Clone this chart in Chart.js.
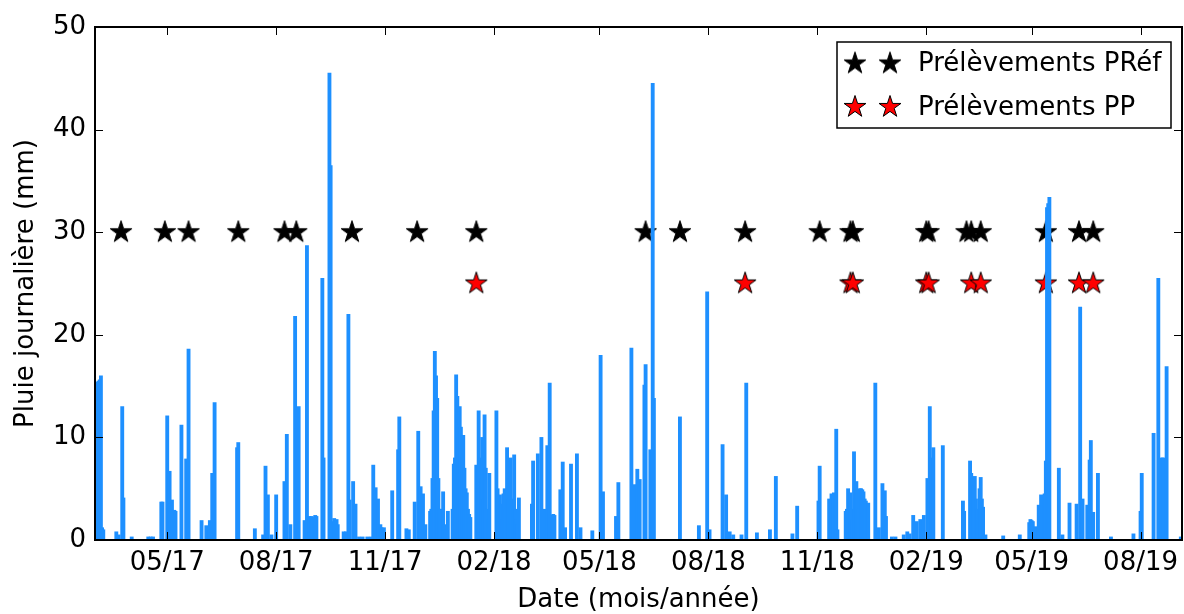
<!DOCTYPE html>
<html>
<head>
<meta charset="utf-8">
<script src="https://cdn.jsdelivr.net/npm/chart.js@4.4.1/dist/chart.umd.min.js"></script>
<style>
  html, body { margin: 0; padding: 0; background: #fff; overflow: hidden; }
  canvas { display: block; }
</style>
</head>
<body>
<canvas id="chart" width="1184" height="614"></canvas>
<script>
// jour 0 = 01/03/2017, un point par jour de pluie (les autres jours valent 0)
const rainDay = [
  1, 2, 3, 4, 5, 6, 7, 18, 20, 23, 24, 31, 45, 47, 49,
  56, 57, 61, 62, 63, 64, 65, 67, 68, 73, 77, 78, 79,
  90, 94, 97, 99, 101, 120, 121, 135, 142, 144, 146, 149, 153,
  160, 162, 165, 169, 170, 172, 177, 179, 181, 182, 183, 184, 185, 186, 187,
  192, 193, 198, 199, 201, 202, 203, 204, 205, 210, 212, 214, 215, 218, 220,
  223, 226, 230, 233, 235, 237, 239, 241, 242, 244, 251, 256, 257,
  263, 265, 270, 273, 275, 277, 279,
  283, 284, 285, 286, 287, 288, 289, 290, 291, 292, 293, 294, 295, 296, 298,
  302, 303, 304, 305, 306, 307, 308, 309, 310, 311, 312, 313, 314, 315, 316, 317,
  322, 323, 324, 325, 326, 327, 328, 329, 330, 331, 332, 333,
  339, 340, 341, 342, 343, 344, 345, 346, 347, 348, 349, 350, 351, 352, 353,
  354, 355, 356, 357, 358,
  369, 370, 374, 377, 380, 382, 384, 386, 387, 388,
  393, 395, 397, 402, 407, 410, 420, 427, 429,
  440, 442, 453, 456, 458, 460, 464, 465, 469, 471, 472,
  494, 510, 517, 519, 530, 533, 536, 539, 546, 550,
  559, 570, 575, 589, 593,
  611, 612, 620, 621, 622, 623, 624, 625, 626, 627,
  634, 635, 636, 637, 638, 639, 640, 641, 642, 643, 644, 645, 646, 647, 648,
  649, 650, 651, 652, 653,
  659, 662, 665, 667, 668, 673, 676, 683, 686, 688,
  691, 694, 697, 700, 703, 704, 705, 706, 707, 708, 716,
  733, 734, 739, 740, 741, 742, 743, 744, 745, 746, 747, 748, 749, 750, 752,
  767, 781, 789, 790, 791, 792, 794, 797, 799, 802, 803, 804, 805, 806,
  814, 817, 823, 829, 832, 834, 838, 840, 841, 843, 847,
  858, 877, 883, 884, 894, 898, 901, 902, 905, 917
];
const rainMm = [
  10.7, 15.4, 15.5, 15.6, 16.0, 1.2, 1.0, 0.8, 0.5, 13.0, 4.1, 0.3, 0.3, 0.3, 0.3,
  3.7, 3.7, 12.1, 3.0, 6.7, 3.5, 3.9, 2.9, 2.8, 11.2, 7.9, 7.5, 18.6,
  1.9, 1.4, 1.9, 6.5, 13.4, 9.0, 9.5, 1.1, 0.5, 7.2, 4.4, 0.5, 4.4,
  5.7, 10.3, 1.5, 21.8, 10.8, 13.0, 1.9, 28.7, 2.3, 2.2, 2.3, 2.1, 2.2, 2.4, 2.3,
  25.5, 8.0, 45.5, 36.5, 1.8, 2.1, 1.9, 2.0, 1.5, 0.8, 0.8, 22.0, 3.9, 5.7, 3.5,
  0.3, 0.3, 0.3, 0.3, 7.3, 5.1, 4.0, 1.5, 1.2, 1.2, 4.8, 8.8, 12.0,
  1.1, 1.0, 3.7, 10.6, 5.2, 4.5, 1.5,
  2.8, 3.0, 6.0, 12.6, 18.4, 16.0, 13.8, 6.0, 3.0, 3.0, 2.0, 4.7, 1.5, 1.0, 2.8,
  3.0, 7.4, 8.0, 16.1, 14.0, 10.0, 13.0, 11.0, 8.0, 10.2, 7.0, 5.0, 4.6, 3.0, 2.5, 2.2,
  7.3, 5.0, 12.6, 8.0, 6.0, 10.0, 4.0, 12.2, 7.0, 3.0, 2.0, 6.5,
  12.6, 5.0, 3.0, 4.4, 3.5, 2.0, 4.5, 5.0, 3.0, 9.0, 4.0, 6.0, 8.0, 4.0, 3.0,
  8.3, 3.0, 2.0, 1.5, 4.1,
  3.5, 7.7, 8.4, 10.0, 3.0, 9.2, 15.3, 2.4, 2.5, 2.4,
  4.9, 7.6, 1.2, 7.4, 8.4, 1.2, 0.9, 18.0, 4.7,
  2.3, 5.6, 18.7, 5.4, 6.9, 5.9, 15.1, 17.1, 8.8, 44.5, 13.8,
  12.0, 1.4, 24.2, 1.0, 9.3, 4.4, 0.8, 0.5, 0.5, 15.3,
  0.7, 1.0, 6.2, 0.6, 3.3,
  3.8, 7.2, 4.0, 2.0, 4.5, 3.0, 4.6, 4.0, 10.8, 1.0,
  2.8, 3.0, 5.0, 4.0, 4.6, 3.0, 2.0, 8.6, 4.0, 5.7, 4.5, 3.0, 5.0, 5.0, 4.9,
  4.7, 4.0, 3.8, 3.0, 3.6,
  15.3, 1.2, 5.5, 4.8, 2.3, 0.3, 0.3, 0.5, 0.8, 0.6,
  2.4, 1.8, 2.0, 2.4, 6.0, 4.0, 13.0, 8.0, 5.0, 9.0, 9.2,
  3.8, 2.8, 7.7, 6.5, 6.0, 5.3, 6.2, 4.0, 3.0, 2.0, 5.0, 6.1, 4.0, 3.2, 0.5,
  0.4, 0.5, 1.7, 2.0, 1.9, 1.8, 1.3, 3.4, 4.4, 4.5, 7.7, 32.4, 32.8, 33.4,
  7.0, 0.5, 3.6, 3.5, 22.7, 4.0, 3.4, 7.8, 9.7, 2.7, 6.5,
  0.3, 0.6, 2.8, 6.5, 10.4, 25.5, 8.0, 8.0, 16.9, 0.3
];
const LAST_DAY = 918;

// dates des prélèvements (jour depuis le 01/03/2017)
const prefDays = [22, 59, 79, 121, 160, 170, 217, 272, 322, 465, 494, 549,
  612, 638, 640, 702, 704, 736, 740, 748, 803, 831, 843];
const ppDays = [322, 549, 638, 640, 702, 704, 740, 748, 803, 831, 843];
const PREF_LEVEL = 30;
const PP_LEVEL = 25;

// graduations
const tickDays = [61, 153, 245, 337, 426, 518, 610, 702, 791, 883];
const tickLabels = ['05/17', '08/17', '11/17', '02/18', '05/18', '08/18',
  '11/18', '02/19', '05/19', '08/19'];
const yTicks = [0, 10, 20, 30, 40, 50];

const rain = rainDay.map((d, i) => ({ x: d, y: rainMm[i] }));

function makeStars(n, fill, gap) {
  const R = 11.5, r = R * 0.382;
  const c = document.createElement('canvas');
  c.width = 28 + gap * (n - 1);
  c.height = 28;
  const g = c.getContext('2d');
  for (let k = 0; k < n; k++) {
    const cx = 14 + k * gap, cy = 14;
    g.beginPath();
    for (let i = 0; i < 10; i++) {
      const rad = i % 2 ? r : R;
      const a = -Math.PI / 2 + i * Math.PI / 5;
      g.lineTo(cx + rad * Math.cos(a), cy + rad * Math.sin(a));
    }
    g.closePath();
    g.fillStyle = fill;
    g.fill();
    g.lineWidth = 1;
    g.strokeStyle = '#000';
    g.stroke();
  }
  return c;
}
const blackStar = makeStars(1, '#000', 0);
const redStar = makeStars(1, '#ff0000', 0);
const blackStar2 = makeStars(2, '#000', 35);
const redStar2 = makeStars(2, '#ff0000', 35);

// cadre + graduations vers l'intérieur (style matplotlib) + légende
const framePlugin = {
  id: 'frame',
  afterDatasetsDraw(chart) {
    const { ctx, chartArea: a, scales: { x, y } } = chart;
    ctx.save();
    ctx.strokeStyle = '#000';
    ctx.lineWidth = 1;
    ctx.beginPath();
    tickDays.forEach(d => {
      const px = Math.round(x.getPixelForValue(d)) + 0.5;
      ctx.moveTo(px, a.bottom); ctx.lineTo(px, a.bottom - 8);
      ctx.moveTo(px, a.top); ctx.lineTo(px, a.top + 8);
    });
    yTicks.forEach(v => {
      const py = Math.round(y.getPixelForValue(v)) + 0.5;
      ctx.moveTo(a.left, py); ctx.lineTo(a.left + 8, py);
      ctx.moveTo(a.right, py); ctx.lineTo(a.right - 8, py);
    });
    ctx.stroke();
    ctx.lineWidth = 2;
    ctx.strokeRect(a.left, a.top, a.right - a.left, a.bottom - a.top);
    ctx.restore();
  },
  afterDraw(chart) {
    const { ctx, chartArea: a } = chart;
    const bx = a.right - 345, by = a.top + 15, bw = 334, bh = 86;
    ctx.save();
    ctx.fillStyle = '#fff';
    ctx.fillRect(bx, by, bw, bh);
    ctx.strokeStyle = '#000';
    ctx.lineWidth = 1.5;
    ctx.strokeRect(bx, by, bw, bh);
    const rows = [
      { img: blackStar2, text: chart.data.datasets[1].label },
      { img: redStar2, text: chart.data.datasets[2].label }
    ];
    ctx.font = '26px "DejaVu Sans"';
    ctx.fillStyle = '#000';
    ctx.textBaseline = 'middle';
    rows.forEach((row, i) => {
      const cy = by + 21.5 + i * 43.5;
      ctx.drawImage(row.img, bx + 4, cy - 14);
      ctx.fillText(row.text, bx + 81, cy + 1);
    });
    ctx.restore();
  }
};

Chart.defaults.font.family = '"DejaVu Sans"';
Chart.defaults.font.size = 26;
Chart.defaults.color = '#000';

new Chart(document.getElementById('chart'), {
  type: 'bar',
  data: {
    datasets: [
      {
        label: 'Pluie',
        data: rain,
        backgroundColor: '#1e90ff',
        borderWidth: 0,
        barThickness: 3.2,
        grouped: false
      },
      {
        type: 'scatter',
        label: 'Prélèvements PRéf',
        data: prefDays.map(d => ({ x: d, y: PREF_LEVEL })),
        pointStyle: blackStar,
        pointRadius: 12
      },
      {
        type: 'scatter',
        label: 'Prélèvements PP',
        data: ppDays.map(d => ({ x: d, y: PP_LEVEL })),
        pointStyle: redStar,
        pointRadius: 12
      }
    ]
  },
  plugins: [framePlugin],
  options: {
    responsive: false,
    animation: false,
    devicePixelRatio: 1,
    layout: { autoPadding: false, padding: { top: 27, right: 2, left: 0, bottom: 0 } },
    plugins: {
      legend: { display: false },
      tooltip: { enabled: false }
    },
    scales: {
      x: {
        type: 'linear',
        min: 0,
        max: LAST_DAY,
        offset: false,
        grid: { display: false, drawTicks: false },
        border: { display: false },
        afterBuildTicks: s => { s.ticks = tickDays.map(v => ({ value: v })); },
        afterFit: s => { s.height = 74; s.paddingLeft = 0; s.paddingRight = 0; },
        ticks: {
          autoSkip: false,
          maxRotation: 0,
          padding: 8,
          callback: v => tickLabels[tickDays.indexOf(v)]
        },
        title: {
          display: true,
          text: 'Date (mois/année)',
          font: { lineHeight: 1.05 },
          padding: { top: 0, bottom: 0 }
        }
      },
      y: {
        min: 0,
        max: 50,
        grid: { display: false, drawTicks: false },
        border: { display: false },
        afterBuildTicks: s => { s.ticks = yTicks.map(v => ({ value: v })); },
        afterFit: s => { s.width = 95; s.paddingTop = 0; s.paddingBottom = 0; },
        ticks: { padding: 9 },
        title: { display: true, text: 'Pluie journalière (mm)', padding: { top: 11, bottom: 0 } }
      }
    }
  }
});
</script>
</body>
</html>
